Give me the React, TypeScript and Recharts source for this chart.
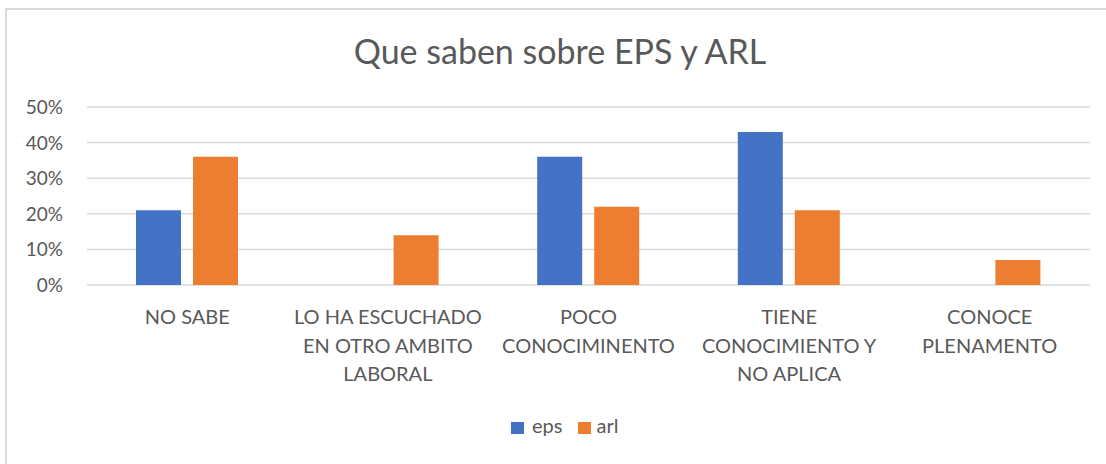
import React from "react";
import { BarChart, Bar, XAxis, YAxis, CartesianGrid, Legend } from "recharts";

const categories = [
  "NO SABE",
  "LO HA ESCUCHADO EN OTRO AMBITO LABORAL",
  "POCO CONOCIMINENTO",
  "TIENE CONOCIMIENTO Y NO APLICA",
  "CONOCE PLENAMENTO",
];
const categoryLines = [
  ["NO SABE"],
  ["LO HA ESCUCHADO", "EN OTRO AMBITO", "LABORAL"],
  ["POCO", "CONOCIMINENTO"],
  ["TIENE", "CONOCIMIENTO Y", "NO APLICA"],
  ["CONOCE", "PLENAMENTO"],
];
const epsValues = [0.21, 0, 0.36, 0.43, 0];
const arlValues = [0.36, 0.14, 0.22, 0.21, 0.07];
const yTicks = [0, 0.1, 0.2, 0.3, 0.4, 0.5];
const title = "Que saben sobre EPS y ARL";

const BLUE = "#4472C4";
const ORANGE = "#ED7D31";
const TEXT = "#595959";
const GRID = "#d9d9d9";
const FONT = "Lato, 'Open Sans', sans-serif";

const data = categories.map((c, i) => ({
  name: c,
  eps: epsValues[i],
  arl: arlValues[i],
}));

const XTick = (props: any) => {
  const { x, y, index } = props;
  const lines = categoryLines[index] || [String(props.payload?.value ?? "")];
  return (
    <text x={x} y={y} textAnchor="middle" fill={TEXT} fontFamily={FONT} fontSize={20}>
      {lines.map((l: string, i: number) => (
        <tspan key={i} x={x} dy={i === 0 ? 39 : 28.7}>
          {l}
        </tspan>
      ))}
    </text>
  );
};

const YTick = (props: any) => {
  const { x, y, payload } = props;
  return (
    <text x={x} y={y} dy={7} textAnchor="end" fill={TEXT} fontFamily={FONT} fontSize={19}>
      {`${Math.round(payload.value * 100)}%`}
    </text>
  );
};

const LegendContent = () => (
  <div style={{ display: "flex", alignItems: "flex-start", height: 24, fontFamily: FONT, fontSize: 20, lineHeight: "24px", color: TEXT, whiteSpace: "nowrap" }}>
    <span style={{ display: "inline-block", width: 13, height: 12, background: BLUE, marginTop: 9, marginRight: 8 }} />
    <span style={{ marginRight: 16 }}>eps</span>
    <span style={{ display: "inline-block", width: 13, height: 12, background: ORANGE, marginTop: 9, marginRight: 5 }} />
    <span>arl</span>
  </div>
);

export default function App() {
  return (
    <div style={{ position: "absolute", left: 0, top: 0, width: 1106, height: 464, overflow: "hidden", background: "#fff" }}>
      <div style={{ position: "absolute", left: 5, top: 8, width: 1200, height: 600, border: `2px solid ${GRID}`, boxSizing: "border-box" }} />
      <div
        style={{
          position: "absolute",
          left: 0,
          width: 1120,
          top: 31,
          textAlign: "center",
          fontFamily: FONT,
          fontSize: 34,
          lineHeight: "40.8px",
          color: TEXT,
          whiteSpace: "nowrap",
        }}
      >
        {title}
      </div>
      <BarChart
        width={1106}
        height={464}
        data={data}
        margin={{ top: 107, right: 16, bottom: 0, left: 27 }}
        barSize={45}
        barGap={12}
        style={{ position: "absolute", left: 0, top: 0 }}
      >
        <CartesianGrid vertical={false} stroke={GRID} strokeWidth={1.5} />
        <XAxis
          dataKey="name"
          height={179}
          axisLine={false}
          tickLine={false}
          tickSize={0}
          tickMargin={0}
          interval={0}
          tick={<XTick />}
        />
        <YAxis
          width={60}
          domain={[0, 0.5]}
          ticks={yTicks}
          axisLine={false}
          tickLine={false}
          tickSize={0}
          tickMargin={24}
          tick={<YTick />}
        />
        <Legend
          layout="horizontal"
          verticalAlign="middle"
          align="center"
          content={<LegendContent />}
          wrapperStyle={{ position: "absolute", left: 511, top: 413, width: "auto" }}
        />
        <Bar dataKey="eps" name="eps" fill={BLUE} isAnimationActive={false} />
        <Bar dataKey="arl" name="arl" fill={ORANGE} isAnimationActive={false} />
      </BarChart>
    </div>
  );
}
